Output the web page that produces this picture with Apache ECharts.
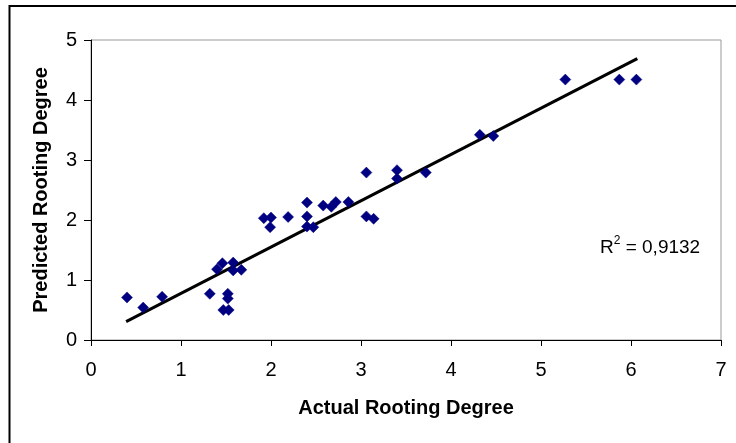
<!DOCTYPE html>
<html>
<head>
<meta charset="utf-8">
<script src="https://cdn.jsdelivr.net/npm/echarts@6/dist/echarts.min.js"></script>
<style>
html,body{margin:0;padding:0;background:#fff;}
#chart{width:736px;height:443px;}
</style>
</head>
<body>
<div id="chart"></div>
<script>
// Actual rooting degree (x) and predicted rooting degree (y)
const actual = [0.40,0.58,0.79,1.32,1.40,1.46,1.58,1.58,1.67,1.52,1.52,1.47,1.53,
  1.92,2.00,1.99,2.19,2.40,2.40,2.40,2.47,2.58,2.67,2.72,2.86,3.06,3.06,3.14,
  3.40,3.40,3.72,4.32,4.47,5.27,5.87,6.06];
const predicted = [0.71,0.54,0.72,0.77,1.18,1.28,1.29,1.16,1.17,0.77,0.69,0.50,0.50,
  2.03,2.04,1.88,2.05,2.29,2.06,1.89,1.88,2.24,2.22,2.30,2.30,2.79,2.06,2.02,
  2.83,2.69,2.79,3.42,3.40,4.34,4.34,4.34];
// Linear trendline end points
const trendX = [0.39, 6.07];
const trendY = [0.305, 4.69];
const xTicks = [0,1,2,3,4,5,6,7];
const yTicks = [0,1,2,3,4,5];
const r2Text = '0,9132';

const points = actual.map((x,i)=>[x,predicted[i]]);
const trend = trendX.map((x,i)=>[x,trendY[i]]);

const chart = echarts.init(document.getElementById('chart'));
const font = '"Liberation Sans", Arial, sans-serif';
chart.setOption({
  animation:false,
  backgroundColor:'#fff',
  grid:{left:91,right:15,top:40,bottom:103,show:true,borderColor:'#999',borderWidth:1,backgroundColor:'transparent'},
  xAxis:{type:'value',min:xTicks[0],max:xTicks[xTicks.length-1],interval:1,
    name:'Actual Rooting Degree',nameLocation:'middle',nameGap:58,
    nameTextStyle:{fontFamily:font,fontSize:20,fontWeight:'bold',color:'#000'},
    axisLine:{show:true,lineStyle:{color:'#000',width:1}},
    axisTick:{show:true,inside:false,length:6,lineStyle:{color:'#000'}},
    axisLabel:{fontFamily:font,fontSize:20,color:'#000',margin:20},
    splitLine:{show:false}},
  yAxis:{type:'value',min:yTicks[0],max:yTicks[yTicks.length-1],interval:1,
    name:'Predicted Rooting Degree',nameLocation:'middle',nameGap:40,
    nameTextStyle:{fontFamily:font,fontSize:20,fontWeight:'bold',color:'#000'},
    axisLine:{show:true,lineStyle:{color:'#000',width:1}},
    axisTick:{show:true,inside:false,length:7,lineStyle:{color:'#000'}},
    axisLabel:{fontFamily:font,fontSize:20,color:'#000',margin:14},
    splitLine:{show:false}},
  series:[
    {type:'line',data:trend,symbol:'none',lineStyle:{color:'#000',width:3},z:2,silent:true},
    {type:'scatter',data:points,symbol:'diamond',symbolSize:11,itemStyle:{color:'#000080',borderColor:'#000080',borderWidth:0.5,opacity:1},z:3}
  ],
  graphic:[
    {type:'rect',shape:{x:9.5,y:6,width:800,height:500},style:{fill:'none',stroke:'#000',lineWidth:2},silent:true},
    {type:'text',left:600,top:235,style:{
      text:'{r|R}{s|2}{r| = '+r2Text+'}',
      rich:{r:{fontFamily:font,fontSize:19,fill:'#000',verticalAlign:'bottom',lineHeight:22},
            s:{fontFamily:font,fontSize:12,fill:'#000',verticalAlign:'top',lineHeight:22,padding:[0,0,9,0]}}
    }}
  ]
});
</script>
</body>
</html>
